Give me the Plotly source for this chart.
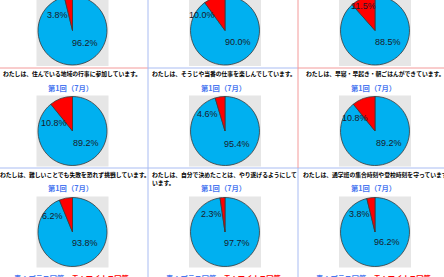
import plotly.graph_objects as go

# ---------------- data ----------------
categories = ["プラス回答", "マイナス回答"]
plus_pct = [96.2, 90.0, 88.5, 89.2, 95.4, 89.2, 93.8, 97.7, 96.2]
minus_pct = [3.8, 10.0, 11.5, 10.8, 4.6, 10.8, 6.2, 2.3, 3.8]
questions_row2 = [
    "わたしは、住んでいる地域の行事に参加しています。",
    "わたしは、そうじや当番の仕事を楽しんでしています。",
    "わたしは、早寝・早起き・朝ごはんができています。",
]
questions_row3 = [
    "わたしは、難しいことでも失敗を恐れず挑戦しています。",
    "わたしは、自分で決めたことは、やり遂げるようにして<br>います。",
    "わたしは、通学班の集合時刻や登校時刻を守っています。",
]
round_label = "第1回（7月）"
legend_plus = "青：プラス回答"
legend_minus = "赤：マイナス回答"

# ---------------- layout helpers (styles / positions) ----------------
W, H = 444, 281      # figure is 4px taller; its top 4px sit above the window
OY = 4
def fx(x):
    return x / W
def fy(y):
    return 1 - (y + OY) / H

col_cx = [72.5, 225, 375]
row_cy = [30.5, 131, 232]
D = 69
BLUE = "#00b0f0"
RED = "#ff0000"
GRAY_BG = "#e6e6e6"
LINE_BLUE = "#a9bcf2"
LINE_RED = "#f39a9a"
TITLE_BLUE = "#4a78f0"
LABEL_FONT = dict(family="Liberation Sans, Arial, sans-serif", size=9, color="#1a1a2a")
JP = "Noto Sans CJK JP, sans-serif"

red_off = [(-15, -15.5), (-23, -15.5), (-12, -25), (-19, -8), (-17.5, -17),
           (-20, -13), (-20.5, -16.5), (-13.5, -18), (-15.5, -18)]
blue_off = [(12, 12.5), (13.3, 12), (13.3, 12), (13, 12), (12, 13),
            (14, 12), (12.7, 11), (11.6, 11), (11.7, 10)]

fig = go.Figure()
shapes = []
annotations = []

for i in range(9):
    r, c = divmod(i, 3)
    cx, cy = col_cx[c], row_cy[r]
    shapes.append(dict(type="rect", xref="paper", yref="paper", layer="below",
                       x0=fx(cx - D / 2 - 1.5), x1=fx(cx + D / 2 + 1.5),
                       y0=fy(cy + D / 2 + 1), y1=fy(cy - D / 2 - 1),
                       fillcolor=GRAY_BG, line=dict(width=0)))
    fig.add_trace(go.Pie(
        labels=categories, values=[plus_pct[i], minus_pct[i]],
        marker=dict(colors=[BLUE, RED], line=dict(color="#3a3a3a", width=0.8)),
        sort=False, direction="clockwise", rotation=0,
        textinfo="none", hoverinfo="label+percent", showlegend=False,
        domain=dict(x=[fx(cx - D / 2), fx(cx + D / 2)],
                    y=[fy(cy + D / 2), min(1, fy(cy - D / 2))]),
    ))
    for val, (dx, dy) in ((plus_pct[i], blue_off[i]), (minus_pct[i], red_off[i])):
        annotations.append(dict(xref="paper", yref="paper", x=fx(cx + dx), y=fy(cy + dy),
                                text=f"{val:.1f}%", showarrow=False, font=LABEL_FONT,
                                xanchor="center", yanchor="middle"))

# question texts
q2_x = [1, 150, 304]
for c, q in enumerate(questions_row2):
    annotations.append(dict(xref="paper", yref="paper", x=fx(q2_x[c]), y=fy(73.5),
                            text=f"<b>{q}</b>", showarrow=False, align="left",
                            font=dict(family=JP, size=5.8, color="#000"),
                            xanchor="left", yanchor="middle"))
q3_x = [-2.5, 150, 301]
for c, q in enumerate(questions_row3):
    annotations.append(dict(xref="paper", yref="paper", x=fx(q3_x[c]), y=fy(167.5),
                            text=f"<b>{q}</b>", showarrow=False, align="left",
                            font=dict(family=JP, size=5.8, color="#000"),
                            xanchor="left", yanchor="top"))

# round titles
for ty in (88, 188):
    for c in range(3):
        annotations.append(dict(xref="paper", yref="paper", x=fx(col_cx[c] - 2), y=fy(ty),
                                text=f"<b>{round_label}</b>", showarrow=False,
                                font=dict(family=JP, size=7.3, color=TITLE_BLUE),
                                xanchor="center", yanchor="middle"))

# legends at bottom
for c in range(3):
    annotations.append(dict(xref="paper", yref="paper", x=fx(col_cx[c] - 1), y=fy(277.5),
                            text=(f"<b><span style='color:{TITLE_BLUE}'>{legend_plus}</span>"
                                  f"　<span style='color:{RED}'>{legend_minus}</span></b>"),
                            showarrow=False, font=dict(family=JP, size=7.2),
                            xanchor="center", yanchor="middle"))

# grid lines
def hline(y, x0, x1, color):
    shapes.append(dict(type="line", xref="paper", yref="paper", x0=fx(x0), x1=fx(x1),
                       y0=fy(y), y1=fy(y), line=dict(color=color, width=1)))
def vline(x, y0, y1, color):
    shapes.append(dict(type="line", xref="paper", yref="paper", x0=fx(x), x1=fx(x),
                       y0=fy(y0), y1=fy(y1), line=dict(color=color, width=1)))

hline(68, 0, 148, LINE_RED)
hline(68, 148, 298, LINE_BLUE)
hline(68, 298, 444, LINE_RED)
hline(168, 0, 444, LINE_BLUE)
vline(148, -OY, 277, LINE_BLUE)
vline(298, -OY, 168, LINE_RED)
vline(298, 168, 277, LINE_BLUE)

fig.update_layout(width=W, height=H, margin=dict(l=0, r=0, t=0, b=0),
                  paper_bgcolor="white", plot_bgcolor="white",
                  shapes=shapes, annotations=annotations)
fig.write_html("out.html", config={"displayModeBar": False},
               post_script="document.body.style.margin='0';"
                           "document.body.style.marginTop='-%dpx';"
                           "document.body.style.overflow='hidden';" % OY)
